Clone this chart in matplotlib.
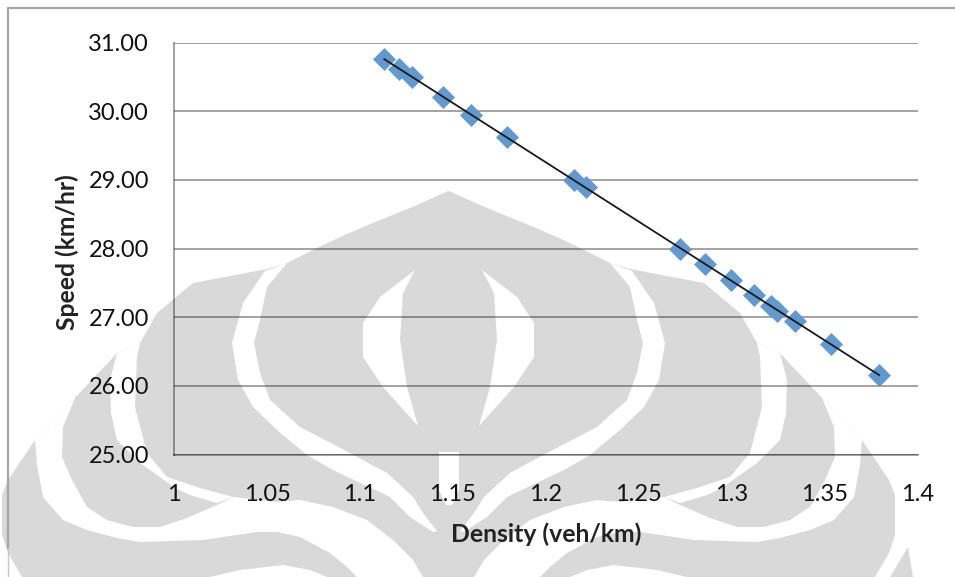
import numpy as np
import matplotlib
matplotlib.use("Agg")
import matplotlib.pyplot as plt
from matplotlib.patches import Polygon

density = [1.1131, 1.1210, 1.1282, 1.1448, 1.1596, 1.1789, 1.2153, 1.2216, 1.2722,
           1.2857, 1.2994, 1.3118, 1.3211, 1.3245, 1.3342, 1.3534, 1.3792]
speed = [30.76, 30.61, 30.50, 30.21, 29.95, 29.62, 29.00, 28.89, 28.00,
         27.77, 27.54, 27.32, 27.16, 27.09, 26.94, 26.61, 26.16]
x_ticks = [1, 1.05, 1.1, 1.15, 1.2, 1.25, 1.3, 1.35, 1.4]
x_tick_labels = ["1", "1.05", "1.1", "1.15", "1.2", "1.25", "1.3", "1.35", "1.4"]
y_ticks = [25, 26, 27, 28, 29, 30, 31]
y_tick_labels = ["25.00", "26.00", "27.00", "28.00", "29.00", "30.00", "31.00"]

plt.rcParams["font.family"] = ["Lato", "DejaVu Sans"]

# watermark outline, left half in image pixels, mirrored around the centre
CENTRE = 448.5
body = [(448, 191), (417, 205), (373, 223), (340, 237), (317, 248), (287, 263), (267, 269),
        (193, 283), (157, 313), (140, 343), (117, 353), (35, 440), (8, 480), (2, 495),
        (2, 535), (8, 553), (22, 577), (448, 577)]
crescent = [(415, 270), (380, 297), (363, 323), (363, 357), (383, 387), (418, 426),
            (407, 387), (400, 340), (403, 293)]
inner_band = [(287, 263), (267, 287), (260, 320), (254, 343), (260, 373), (270, 400), (300, 427),
              (350, 453), (387, 473), (413, 497), (423, 513), (437, 531), (433, 532),
              (410, 517), (390, 497), (333, 470), (307, 455), (277, 430), (253, 407),
              (238, 380), (232, 343), (243, 303), (265, 271)]
wing_band = [(117, 353), (110, 380), (111, 413), (117, 440), (140, 463), (160, 477), (175, 488),
             (190, 495), (217, 503), (233, 497), (200, 488), (167, 477), (147, 453),
             (135, 407), (137, 357), (140, 343)]
outer_band = [(117, 353), (90, 370), (77, 393), (63, 427), (62, 457), (72, 480), (87, 507),
              (107, 520), (133, 527), (160, 527), (187, 518), (217, 505), (233, 497),
              (277, 502), (300, 500), (333, 507), (367, 520), (393, 540), (413, 560),
              (423, 577), (357, 577), (347, 567), (330, 553), (300, 537), (277, 532),
              (257, 532), (203, 540), (140, 542), (117, 538), (87, 530), (63, 520),
              (43, 497), (37, 465), (35, 440)]
low_band = [(210, 577), (240, 570), (283, 565), (310, 570), (327, 577)]
stem = [(439, 452), (459, 452), (459, 490), (452, 505), (446, 505), (439, 490)]
corner = [(908, 547), (913, 577), (890, 577)]


def mirror(points):
    return [(2 * CENTRE - px, py) for px, py in points]


fig = plt.figure(figsize=(9.55, 5.77), dpi=100)

bg = fig.add_axes([0, 0, 1, 1], zorder=0)
bg.set_xlim(0, 955)
bg.set_ylim(577, 0)
bg.axis("off")
bg.add_patch(Polygon(body + mirror(body)[::-1], color="#d9d9d9", lw=0))
bg.add_patch(Polygon(corner, color="#d9d9d9", lw=0))
for shape in [crescent, inner_band, wing_band, outer_band, low_band]:
    bg.add_patch(Polygon(shape, color="white", lw=0))
    bg.add_patch(Polygon(mirror(shape), color="white", lw=0))
bg.add_patch(Polygon(stem, color="white", lw=0))
# page frame
bg.plot([8, 8, 955], [548, 8, 8], color="#a6a6a6", lw=1.6)
bg.plot([8, 8], [548, 577], color="#c8c8c8", lw=1)

ax = fig.add_axes([174 / 955, 1 - 454.5 / 577, (917.7 - 174) / 955, (454.5 - 42.5) / 577], zorder=1)
ax.patch.set_alpha(0)

ax.set_axisbelow(True)
ax.grid(True, axis="y", color="black", alpha=0.36, lw=1.4)
for side in ["top", "right"]:
    ax.spines[side].set_visible(False)
for side in ["left", "bottom"]:
    ax.spines[side].set_color((0, 0, 0, 0.36))
    ax.spines[side].set_linewidth(1.4)

ax.plot(density, speed, linestyle="none", marker="D", markersize=11,
        markerfacecolor="#6399cf", markeredgecolor="#6399cf", markeredgewidth=0.5, zorder=3)
fit = np.polyfit(density, speed, 1)
fit_x = np.array([density[0], density[-1]])
ax.plot(fit_x, np.polyval(fit, fit_x), color="#1a1a1a", lw=1.3, zorder=4)

ax.set_xlim(1, 1.4)
ax.set_ylim(25, 31)
ax.set_xticks(x_ticks)
ax.set_xticklabels(x_tick_labels)
ax.set_yticks(y_ticks)
ax.set_yticklabels(y_tick_labels)
ax.tick_params(axis="x", length=0, pad=21, labelsize=17, labelcolor="#111111")
ax.tick_params(axis="y", length=0, pad=18, labelsize=17, labelcolor="#111111")

ax.set_xlabel("Density (veh/km)", fontsize=17.8, fontweight="bold", color="#222222")
ax.xaxis.set_label_coords(0.5, -0.165)
ax.set_ylabel("Speed (km/hr)", fontsize=17.8, fontweight="bold", color="#222222")
ax.yaxis.set_label_coords(-0.1275, 0.49)

fig.savefig("out.png", dpi=100)
